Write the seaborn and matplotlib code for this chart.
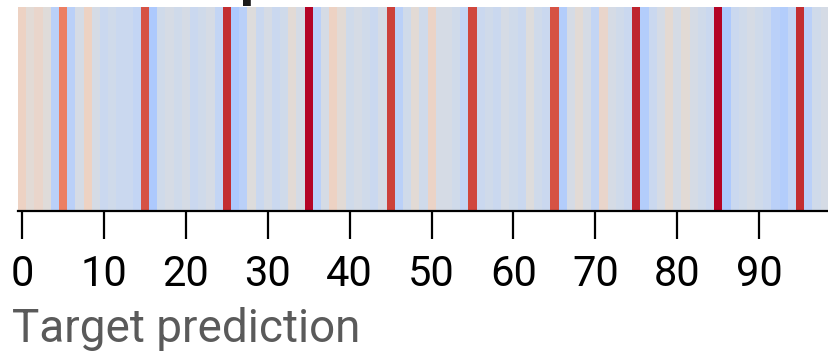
import numpy as np
import pandas as pd
import matplotlib
matplotlib.use("Agg")
import matplotlib.pyplot as plt
import seaborn as sns

# Target prediction scores for positions 0..99
positions = list(range(100))
scores = [
    0.57, 0.52, 0.55, 0.51, 0.38, 0.81, 0.38, 0.47, 0.57, 0.47,
    0.43, 0.45, 0.43, 0.43, 0.41, 0.90, 0.34, 0.45, 0.47, 0.45,
    0.47, 0.43, 0.45, 0.47, 0.41, 0.96, 0.34, 0.38, 0.50, 0.43,
    0.47, 0.43, 0.45, 0.52, 0.47, 1.00, 0.38, 0.47, 0.57, 0.52,
    0.45, 0.47, 0.45, 0.43, 0.47, 0.93, 0.38, 0.45, 0.52, 0.45,
    0.56, 0.47, 0.47, 0.45, 0.41, 0.92, 0.43, 0.45, 0.43, 0.47,
    0.45, 0.43, 0.50, 0.45, 0.43, 0.90, 0.36, 0.47, 0.52, 0.47,
    0.41, 0.55, 0.47, 0.45, 0.43, 0.97, 0.36, 0.43, 0.47, 0.53,
    0.47, 0.52, 0.47, 0.45, 0.43, 1.00, 0.34, 0.43, 0.45, 0.47,
    0.45, 0.43, 0.38, 0.36, 0.41, 0.96, 0.38, 0.45, 0.47, 0.45,
]
tick_positions = [0, 10, 20, 30, 40, 50, 60, 70, 80, 90]
tick_labels = [str(t) for t in tick_positions]
x_label = "Target prediction"

sns.set_style("white")
plt.rcParams['font.family'] = ['Roboto', 'DejaVu Sans']

W, H = 829, 351
fig = plt.figure(figsize=(W / 100, H / 100), dpi=100)
ax = fig.add_axes([18 / W, (H - 211) / H, 819 / W, 204 / H])

data = pd.DataFrame([scores], columns=positions)
sns.heatmap(data, ax=ax, cmap="coolwarm", vmin=0, vmax=1, cbar=False,
            xticklabels=False, yticklabels=False)

ax.set_xticks([t + 0.5 for t in tick_positions])
ax.set_xticklabels(tick_labels, fontsize=30, color="black", rotation=0)
ax.set_yticks([])
ax.tick_params(axis="x", bottom=True, length=20, width=1.6, color="black", pad=11)
ax.spines["bottom"].set_visible(True)
ax.spines["bottom"].set_color("black")
ax.spines["bottom"].set_linewidth(1.6)
ax.set_xlabel(x_label, fontsize=33, color="#5a5a5a")
ax.xaxis.set_label_coords(-6 / 819, -131 / 204)
ax.xaxis.label.set_horizontalalignment("left")
ax.xaxis.label.set_verticalalignment("baseline")
ax.set_ylabel("")

# Bottom of the (cropped) title visible at the top edge
fig.text(240 / W, (H + 5) / H, "p", fontsize=40, fontweight="bold",
         color="#1a1a1a", ha="left", va="baseline")

fig.savefig("out.png", dpi=100)
